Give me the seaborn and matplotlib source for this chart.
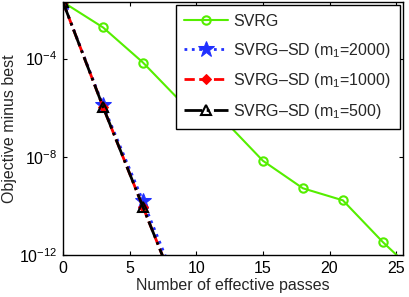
import numpy as np
import pandas as pd
import matplotlib
matplotlib.use("Agg")
import matplotlib.pyplot as plt
import seaborn as sns
from matplotlib.ticker import FixedLocator, FuncFormatter

# --- Data (log10 of objective minus best) ---
passes_svrg = [0, 3, 6, 9, 12, 15, 18, 21, 24, 27]
log_svrg = [-1.7, -2.73, -4.16, -5.84, -6.46, -8.16, -9.28, -9.77, -11.47, -13.0]

passes_sd = [0, 3, 6, 9]
log_sd_2000 = [-1.7, -5.9, -9.8, -13.8]
log_sd_1000 = [-1.7, -5.96, -10.04, -14.1]
log_sd_500 = [-1.7, -5.96, -10.04, -14.1]

labels = ["SVRG", "SVRG\u2013SD (m$_1$=2000)", "SVRG\u2013SD (m$_1$=1000)",
          "SVRG\u2013SD (m$_1$=500)"]

sns.set_style("ticks")
plt.rcParams["font.family"] = ["Liberation Sans", "DejaVu Sans"]
plt.rcParams["mathtext.fontset"] = "custom"
plt.rcParams["mathtext.rm"] = "Liberation Sans"
plt.rcParams["mathtext.it"] = "Liberation Sans:italic"
plt.rcParams["mathtext.default"] = "regular"

green = "#55EE00"
blue = "#2030FF"
fs = 11.5

fig = plt.figure(figsize=(4.09, 2.97), dpi=100)
ax = fig.add_axes([0.154, 0.141, 0.831, 0.852])

sns.lineplot(x=passes_svrg, y=10 ** np.array(log_svrg), ax=ax, color=green,
             lw=1.5, marker="o", markersize=6, markerfacecolor="none",
             markeredgecolor=green, markeredgewidth=1.5, label=labels[0])
sns.lineplot(x=passes_sd, y=10 ** np.array(log_sd_2000), ax=ax, color=blue,
             lw=2, linestyle=":", marker="*", markersize=12,
             markerfacecolor=blue, markeredgecolor=blue, label=labels[1])
sns.lineplot(x=passes_sd, y=10 ** np.array(log_sd_1000), ax=ax, color="#FF0000",
             lw=2, linestyle="--", dashes=(5, 3), marker="D", markersize=5,
             markerfacecolor="#FF0000", markeredgecolor="#FF0000", label=labels[2])
sns.lineplot(x=passes_sd, y=10 ** np.array(log_sd_500), ax=ax, color="black",
             lw=2, linestyle="-.", dashes=(6, 2.5, 1, 2.5), marker="^", markersize=7,
             markerfacecolor="none", markeredgecolor="black", markeredgewidth=1.5,
             label=labels[3])

ax.set_yscale("log")
ax.set_xlim(0, 25.5)
ax.set_ylim(1e-12, 10 ** -1.7)
ax.xaxis.set_major_locator(FixedLocator([0, 5, 10, 15, 20, 25]))
ax.yaxis.set_major_locator(FixedLocator([1e-12, 1e-8, 1e-4]))
ax.yaxis.set_minor_locator(FixedLocator([]))
ax.yaxis.set_major_formatter(FuncFormatter(lambda v, p: "$10^{%d}$" % round(np.log10(v))))
ax.tick_params(direction="in", top=True, right=True, length=3, width=0.8,
               labelsize=fs, colors="black", pad=4)
ax.tick_params(which="minor", length=0)
for s in ax.spines.values():
    s.set_linewidth(1)
    s.set_color("black")

ax.set_xlabel("Number of effective passes", fontsize=fs, labelpad=1.5)
ax.set_ylabel("Objective minus best", fontsize=fs, labelpad=1.5)

leg = ax.legend(loc="upper right", fontsize=fs, frameon=True, fancybox=False,
                edgecolor="black", framealpha=1, handlelength=2.7,
                handletextpad=0.35, borderpad=0.55, borderaxespad=0.2,
                labelspacing=0.72)
leg.get_frame().set_linewidth(1)

fig.savefig("out.png", dpi=100)
